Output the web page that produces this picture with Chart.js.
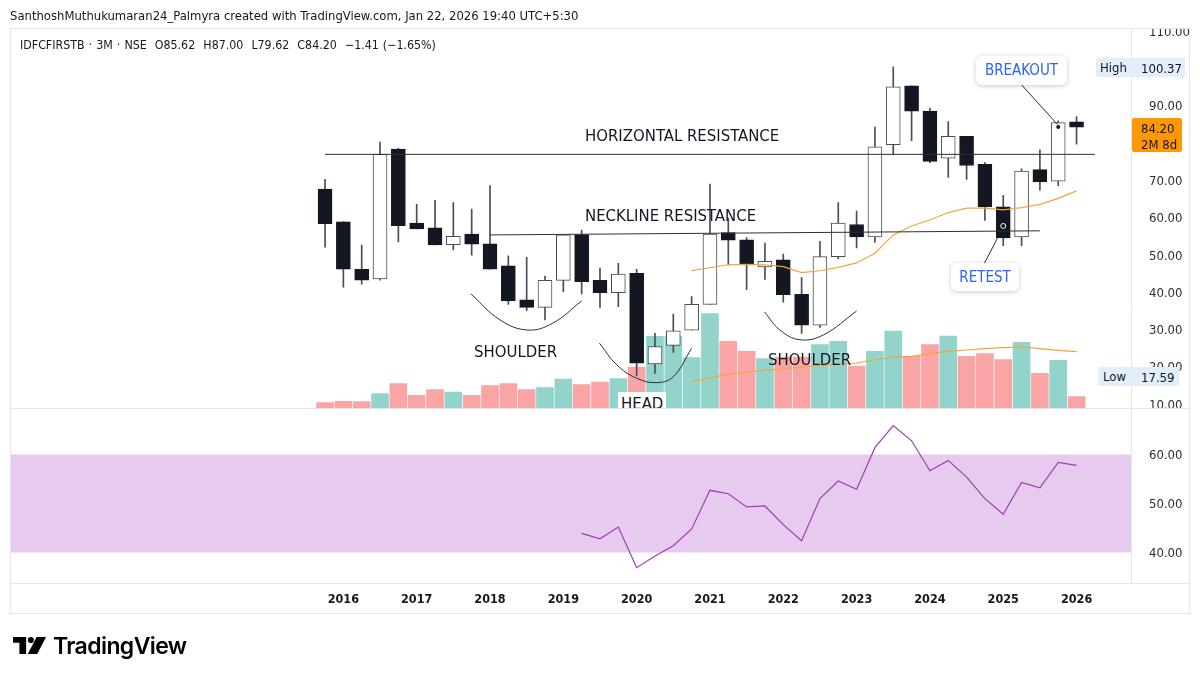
<!DOCTYPE html>
<html>
<head>
<meta charset="utf-8">
<script src="https://cdn.jsdelivr.net/npm/chart.js@4"></script>
<style>
html,body{margin:0;padding:0;background:#fff;width:1200px;height:679px;overflow:hidden}
body{position:relative;font-family:"DejaVu Sans Condensed","DejaVu Sans",sans-serif;color:#131722}
#wrap{position:absolute;left:0;top:0;width:1200px;height:679px}
canvas{position:absolute;left:0;top:0}
.t{position:absolute;white-space:nowrap;line-height:1}
.rule{position:absolute;background:#e4e6ec}
.cover{position:absolute;background:#fff}
.tag{position:absolute;background:#e3eefb;border-radius:2px}
.note{position:absolute;background:#fff;border-radius:6px;box-shadow:0 1px 5px rgba(0,0,0,.22);color:#2962ff;font-size:15px;text-align:center;white-space:nowrap}
</style>
</head>
<body>
<div id="wrap"><canvas id="c" width="1200" height="679"></canvas></div>

<div class="rule" style="left:10px;top:28px;width:1180px;height:1px"></div>
<div class="rule" style="left:10px;top:28px;width:1px;height:586px"></div>
<div class="rule" style="left:1189px;top:28px;width:1px;height:586px"></div>
<div class="rule" style="left:10px;top:408px;width:1180px;height:1px"></div>
<div class="rule" style="left:10px;top:583px;width:1180px;height:1px"></div>
<div class="rule" style="left:10px;top:613px;width:1180px;height:1px"></div>
<div class="cover" style="left:1132px;top:20px;width:57px;height:8px"></div>
<div class="cover" style="left:1132px;top:409px;width:57px;height:9px"></div>

<div class="t" style="left:10px;top:10px;font-size:12.95px">SanthoshMuthukumaran24_Palmyra created with TradingView.com, Jan 22, 2026 19:40 UTC+5:30</div>
<div class="t" style="left:20px;top:39px;font-size:12.3px;word-spacing:.55px">IDFCFIRSTB · 3M · NSE &nbsp;O85.62 &nbsp;H87.00 &nbsp;L79.62 &nbsp;C84.20 &nbsp;−1.41 (−1.65%)</div>

<div class="t" style="left:585px;top:128px;font-size:16.6px">HORIZONTAL RESISTANCE</div>
<div class="t" style="left:585px;top:208px;font-size:16.6px">NECKLINE RESISTANCE</div>
<div class="t" style="left:474px;top:344px;font-size:16.6px">SHOULDER</div>
<div class="t" style="left:768px;top:352px;font-size:16.6px">SHOULDER</div>
<div style="position:absolute;left:618px;top:392px;width:48px;height:16px;background:#fff;overflow:hidden">
  <div class="t" style="left:3px;top:4px;font-size:16.6px">HEAD</div>
</div>

<div class="note" style="left:976px;top:56px;width:91px;height:29px;line-height:29px">BREAKOUT</div>
<div class="note" style="left:951px;top:263px;width:68px;height:28px;line-height:28px">RETEST</div>

<div class="tag" style="left:1096px;top:58px;width:89px;height:19px"></div>
<div class="t" style="left:1100px;top:61px;font-size:13px">High</div>
<div class="t" style="left:1141px;top:62px;font-size:13px">100.37</div>
<div class="tag" style="left:1098px;top:367px;width:81px;height:19px"></div>
<div class="t" style="left:1103px;top:370px;font-size:13px">Low</div>
<div class="t" style="left:1141px;top:371px;font-size:13px">17.59</div>
<div style="position:absolute;left:1132px;top:118px;width:50px;height:34px;background:#ff9800;border-radius:2px"></div>
<div class="t" style="left:1141px;top:122px;font-size:13px">84.20</div>
<div class="t" style="left:1141px;top:138px;font-size:13px">2M 8d</div>

<svg style="position:absolute;left:13px;top:637px" width="33" height="17" viewBox="0 0 98 50"><path d="M0 0H39V50H19V17H0Z" fill="#000"/><circle cx="53" cy="9" r="9" fill="#000"/><path d="M70 0H98L72 50H44Z" fill="#000"/></svg>
<div class="t" style="left:53px;top:635px;font-family:Inter,sans-serif;font-weight:600;font-size:23px;letter-spacing:-.6px;color:#000">TradingView</div>

<script>
// quarterly candles, index 0 = last quarter of 2015
const opens  = [67.6,58.8,46.1,43.5,78.3,58.5,57.2,52.7,55.5,52.9,47.0,37.9,35.9,43.1,55.4,43.1,39.8,45.0,20.7,25.7,29.8,36.7,55.9,54.0,46.7,48.6,39.4,31.1,49.5,58.1,54.8,79.5,95.25,88.5,75.9,81.7,74.2,62.8,54.8,72.8,69.7,85.62];
const highs  = [70.2,58.8,52.6,80.2,78.5,63.5,64.6,64.0,62.2,68.5,49.7,49.3,44.3,55.3,56.6,46.4,47.7,46.1,28.9,34.1,38.8,68.9,59.8,54.6,53.1,50.2,43.9,53.6,64.0,61.7,84.2,100.37,95.25,89.3,85.7,81.7,74.7,65.9,73.0,78.1,85.9,87.0];
const lows   = [52.0,41.3,42.1,43.2,53.4,56.9,52.6,51.3,49.9,46.1,36.7,35.0,32.5,40.1,39.5,35.9,36.1,17.59,18.2,23.8,29.8,36.7,47.3,40.6,43.4,37.3,28.9,30.5,48.9,51.8,53.3,77.0,80.6,74.7,70.7,70.2,59.2,52.4,52.4,67.3,68.5,79.62];
const closes = [58.3,46.1,43.2,76.9,57.8,56.9,52.6,54.9,52.8,46.1,37.6,35.9,43.1,55.3,42.8,39.8,44.8,20.9,25.4,29.6,36.7,55.5,53.9,47.3,48.2,39.3,31.1,49.5,58.5,54.8,78.9,95.0,88.5,75.0,81.7,73.9,62.8,54.5,72.4,69.5,85.4,84.2];
// relative volume, read as bar height
const volumes = [5.3,6.7,6.3,14.3,24.3,12.7,18.3,16,12.7,22.3,24.3,18.3,20.3,29,23.3,26,29.3,41,71.7,71.7,50.3,94.3,66.7,56.7,49.3,51,51,63.3,66.7,42,56.7,77,51.7,63.3,72,51.7,54.3,48.3,65.7,34.7,47.7,11.3];
const volumeAvg = [26,30.3,33.7,36,37.7,39,41,42.3,43.7,45,48,51,51.7,54.3,56.7,58,59.3,60.3,61,59.3,57.7,56.3];
const priceAvg = [45.75,46.5,47.3,47.4,47.3,46.8,45.2,45.7,46.6,47.8,50.4,55.3,57.7,59.3,61.3,62.5,62.5,62.0,62.6,63.5,65.1,67.1];
const avgStart = 20;
const rsiValues = [43.9,42.8,45.2,36.9,39.3,41.4,44.8,52.7,52.0,49.3,49.5,45.7,42.4,51.0,54.6,52.9,61.4,65.9,62.8,56.7,58.8,55.4,51.0,47.8,54.3,53.2,58.4,57.8];
const rsiStart = 14;
const rsiBand = [60,40];
const yearLabels = ['2016','2017','2018','2019','2020','2021','2022','2023','2024','2025','2026'];
const yearTicks = [1,5,9,13,17,21,25,29,33,37,41];
const priceTicks = [10,20,30,40,50,60,70,90,110];
const rsiTicks = [40,50,60];
// hand-drawn lines on the chart, in candle index and price
const horizontalResistance = [{x:0,y:76.9},{x:42,y:76.9}];
const necklineResistance = [{x:9,y:55.3},{x:39,y:56.4}];
const leftShoulder = [{x:7.96,y:39.5},{x:9.55,y:32.5},{x:11.07,y:29.8},{x:12.44,y:31.7},{x:14,y:37.6}];
const headArc = [{x:14.97,y:26.3},{x:15.91,y:20.5},{x:17,y:16.9},{x:18.09,y:15.7},{x:19,y:17.3},{x:20,y:24.9}];
const rightShoulder = [{x:23.97,y:34.7},{x:24.82,y:29.8},{x:25.91,y:27.2},{x:27.19,y:28.5},{x:29,y:34.9}];
const breakoutLeader = [{x:37.97,y:95.7},{x:39.96,y:84.9}];
const retestLeader = [{x:35.97,y:47.7},{x:36.68,y:54.4}];
const breakoutDot = [{x:40,y:84.2}];
const retestDot = [{x:37,y:57.7}];

const UP_VOL='#92d3cc', DN_VOL='#f9a5a5', CANDLE='#131722', EDGE='#4a4d55', ORANGE='#f3a53c', INK='#2b2e36';
const xMin=-17.16, xMax=43.97;
const isUp = i => closes[i] >= opens[i];

const drawn = (data,extra={}) => Object.assign({type:'line',data,yAxisID:'y',borderColor:INK,borderWidth:1,pointRadius:0,order:2,clip:false},extra);

const datasets = [
  {type:'line',data:[{x:xMin,y:rsiBand[0]},{x:xMax,y:rsiBand[0]}],yAxisID:'rsi',borderWidth:0,pointRadius:0,backgroundColor:'#e6cbee',fill:'+1',order:20},
  {type:'line',data:[{x:xMin,y:rsiBand[1]},{x:xMax,y:rsiBand[1]}],yAxisID:'rsi',borderWidth:0,pointRadius:0,order:20},
  {type:'bar',data:volumes.map((v,i)=>({x:i,y:v})),yAxisID:'vol',barThickness:17,grouped:false,borderWidth:0,
   backgroundColor:volumes.map((_,i)=>isUp(i)?UP_VOL:DN_VOL),order:10},
  {type:'line',data:volumeAvg.map((v,i)=>({x:i+avgStart,y:v})),yAxisID:'vol',borderColor:ORANGE,borderWidth:1.2,pointRadius:0,order:9},
  {type:'bar',data:highs.map((h,i)=>({x:i,y:[lows[i],h]})),yAxisID:'y',barThickness:1,grouped:false,borderWidth:0,backgroundColor:EDGE,order:8},
  {type:'bar',data:opens.map((o,i)=>({x:i,y:[o,closes[i]]})),yAxisID:'y',barThickness:14,grouped:false,borderWidth:1,borderSkipped:false,
   backgroundColor:opens.map((_,i)=>isUp(i)?'#ffffff':CANDLE),borderColor:opens.map((_,i)=>isUp(i)?EDGE:CANDLE),order:7},
  {type:'line',data:priceAvg.map((v,i)=>({x:i+avgStart,y:v})),yAxisID:'y',borderColor:ORANGE,borderWidth:1.2,pointRadius:0,order:6},
  {type:'line',data:rsiValues.map((v,i)=>({x:i+rsiStart,y:v})),yAxisID:'rsi',borderColor:'#9c3fb0',borderWidth:1.2,pointRadius:0,order:6},
  drawn(horizontalResistance),
  drawn(necklineResistance),
  drawn(leftShoulder,{tension:.4}),
  drawn(headArc,{tension:.4}),
  drawn(rightShoulder,{tension:.4}),
  drawn(breakoutLeader),
  drawn(retestLeader),
  drawn(breakoutDot,{pointRadius:2,pointBackgroundColor:CANDLE,pointBorderWidth:0,order:1}),
  drawn(retestDot,{pointRadius:2.5,pointBackgroundColor:CANDLE,pointBorderColor:'#fff',pointBorderWidth:1,order:1})
];

const tickFont = {family:'"DejaVu Sans Condensed","DejaVu Sans",sans-serif',size:13};
const widenRsiAxis = {id:'widenRsiAxis',afterLayout(chart){const s=chart.scales.rsi;s.right=s.left+59;s.width=59;}};
new Chart(document.getElementById('c'),{
  type:'bar',
  data:{datasets},
  plugins:[widenRsiAxis],
  options:{
    responsive:false,animation:false,devicePixelRatio:1,
    layout:{padding:{left:10.5,top:29,right:10,bottom:66}},
    plugins:{legend:{display:false},tooltip:{enabled:false}},
    scales:{
      x:{type:'linear',min:xMin,max:xMax,offset:false,
        grid:{display:false},border:{display:false},
        afterBuildTicks:s=>{s.ticks=yearTicks.map(v=>({value:v}));},
        afterFit:s=>{s.height=30;},
        ticks:{autoSkip:false,maxRotation:0,padding:1,color:'#131722',font:{...tickFont,size:12.5,weight:'bold'},
          callback:v=>yearLabels[yearTicks.indexOf(v)]}},
      y:{type:'linear',position:'right',min:-38,max:110.5,
        grid:{display:false},border:{display:true,color:'#e4e6ec'},
        afterBuildTicks:s=>{s.ticks=priceTicks.map(v=>({value:v}));},
        afterFit:s=>{s.width=59;},
        ticks:{padding:10,labelOffset:1.5,color:'#2b2e36',font:tickFont,autoSkip:false,callback:v=>v.toFixed(2)}},
      vol:{type:'linear',display:false,position:'right',min:-175,max:379},
      rsi:{type:'linear',position:'right',weight:-5,min:33.78,max:146.84,
        grid:{display:false},border:{display:false},
        afterBuildTicks:s=>{s.ticks=rsiTicks.map(v=>({value:v}));},
        afterFit:s=>{s.width=0;},
        ticks:{padding:10,labelOffset:1.5,color:'#2b2e36',font:tickFont,autoSkip:false,callback:v=>v.toFixed(2)}}
    }
  }
});
</script>
</body>
</html>
